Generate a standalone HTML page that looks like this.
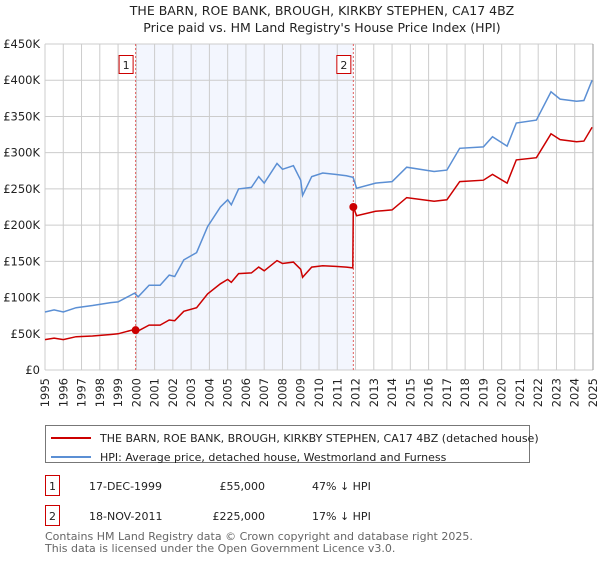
<!DOCTYPE html>
<html><head><meta charset="utf-8">
<style>
body{margin:0;background:#fff;font-family:"Liberation Sans","DejaVu Sans",sans-serif;}
svg text{font-family:"DejaVu Sans","Liberation Sans",sans-serif;}
</style></head>
<body>
<svg id="chart" width="600" height="560" viewBox="0 0 600 560">
<text x="322" y="15" text-anchor="middle" font-size="12.5" fill="#222">THE BARN, ROE BANK, BROUGH, KIRKBY STEPHEN, CA17 4BZ</text>
<text x="322" y="32" text-anchor="middle" font-size="12.5" fill="#222">Price paid vs. HM Land Registry's House Price Index (HPI)</text>
<g id="plot"></g>
<g>
<rect x="45.5" y="425.5" width="484" height="37" fill="#fff" stroke="#777"/>
<line x1="51" y1="438" x2="91" y2="438" stroke="#cc0000" stroke-width="2"/>
<text x="100" y="442" font-size="11" fill="#222">THE BARN, ROE BANK, BROUGH, KIRKBY STEPHEN, CA17 4BZ (detached house)</text>
<line x1="51" y1="457" x2="91" y2="457" stroke="#5b8fd4" stroke-width="2"/>
<text x="100" y="461" font-size="11" fill="#222">HPI: Average price, detached house, Westmorland and Furness</text>
</g>
<g>
<rect x="45.5" y="475.5" width="14" height="20" fill="#fff" stroke="#cc0000"/>
<text x="52.5" y="490" text-anchor="middle" font-size="11" fill="#222">1</text>
<text x="89" y="490" font-size="11" fill="#222">17-DEC-1999</text>
<text x="265" y="490" text-anchor="end" font-size="11" fill="#222">£55,000</text>
<text x="312" y="490" font-size="11" fill="#222">47% ↓ HPI</text>
<rect x="45.5" y="505.5" width="14" height="20" fill="#fff" stroke="#cc0000"/>
<text x="52.5" y="520" text-anchor="middle" font-size="11" fill="#222">2</text>
<text x="89" y="520" font-size="11" fill="#222">18-NOV-2011</text>
<text x="265" y="520" text-anchor="end" font-size="11" fill="#222">£225,000</text>
<text x="312" y="520" font-size="11" fill="#222">17% ↓ HPI</text>
</g>
<text x="45" y="540" font-size="11" fill="#666">Contains HM Land Registry data © Crown copyright and database right 2025.</text>
<text x="45" y="552" font-size="11" fill="#666">This data is licensed under the Open Government Licence v3.0.</text>
</svg>
<script>
const dates=[1995,1995.5,1996,1996.7,1997.6,1998.6,1999,1999.9,2000.1,2000.7,2001.3,2001.8,2002.1,2002.6,2003.3,2003.9,2004.6,2005,2005.2,2005.6,2006.3,2006.7,2007.0,2007.7,2008,2008.6,2009,2009.1,2009.6,2010.2,2010.9,2011.5,2011.85,2011.88,2012.06,2013.1,2014,2014.8,2016.3,2017,2017.7,2019,2019.5,2020.3,2020.8,2021.9,2022.7,2023.2,2024.1,2024.5,2024.95];
const hpiValues=[80,83,80,86,89,93,94,106,101,117,117,131,129,152,162,198,225,235,228,250,252,267,258,285,277,282,262,241,267,272,270,268,266,265,251,258,260,280,274,276,306,308,322,309,341,345,384,374,371,372,400];
const propertyValues=[42,44,42,46,47,49,50,56,54,62,62,69,68,81,86,105,119,125,121,133,134,142,137,151,147,149,139,128,142,144,143,142,141,225,213,219,221,238,233,235,260,262,270,258,290,293,326,318,315,316,335];
const saleDates=[1999.96,2011.88];
const salePrices=[55,225];
const saleLabels=["1","2"];
const yTicks=[0,50,100,150,200,250,300,350,400,450];
const yTickLabels=["£0","£50K","£100K","£150K","£200K","£250K","£300K","£350K","£400K","£450K"];
const xYears=[1995,1996,1997,1998,1999,2000,2001,2002,2003,2004,2005,2006,2007,2008,2009,2010,2011,2012,2013,2014,2015,2016,2017,2018,2019,2020,2021,2022,2023,2024,2025];

const X0=45,X1=593,Y0=370,Y1=44;
const xs=v=>X0+(v-1995)/30*(X1-X0);
const ys=v=>Y0-v/450*(Y0-Y1);
const NS="http://www.w3.org/2000/svg";
const g=document.getElementById('plot');
function mk(t,a){const e=document.createElementNS(NS,t);for(const k in a)e.setAttribute(k,a[k]);g.appendChild(e);return e;}
mk('rect',{x:X0,y:Y1,width:X1-X0,height:Y0-Y1,fill:'#fff'});
const sh=mk('rect',{x:xs(saleDates[0]),y:Y1,width:xs(saleDates[1])-xs(saleDates[0]),height:Y0-Y1,fill:'#f3f6fe'});


xYears.forEach(y=>{const l=mk('line',{x1:xs(y),x2:xs(y),y1:Y1,y2:Y0,stroke:'#cccccc','stroke-width':1});


const t=mk('text',{x:0,y:0,transform:`translate(${xs(y)+4},${Y0+8}) rotate(-90)`,'text-anchor':'end','font-size':11.5,fill:'#222'});
t.textContent=y;

});
yTicks.forEach((v,i)=>{const l=mk('line',{x1:X0,x2:X1,y1:ys(v),y2:ys(v),stroke:'#cccccc','stroke-width':1});


const t=mk('text',{x:40,y:ys(v)+4,'text-anchor':'end','font-size':11.5,fill:'#222'});
t.textContent=yTickLabels[i];

});
saleDates.forEach((d,i)=>{const l=mk('line',{x1:xs(d),x2:xs(d),y1:Y1,y2:Y0,stroke:'#e06060','stroke-dasharray':'2,2','stroke-width':1});


const r=mk('rect',{x:xs(d)-16.5,y:55.5,width:14,height:18,fill:'#fff',stroke:'#cc0000'});


const t=mk('text',{x:xs(d)-9.5,y:69,'text-anchor':'middle','font-size':11,fill:'#222'});
t.textContent=saleLabels[i];

});
const path=(vals)=>dates.map((d,i)=>(i?'L':'M')+xs(d).toFixed(1)+','+ys(vals[i]).toFixed(1)).join('');
const hp=mk('path',{d:path(hpiValues),fill:'none',stroke:'#5b8fd4','stroke-width':1.5});


const pp=mk('path',{d:path(propertyValues),fill:'none',stroke:'#cc0000','stroke-width':1.5});


saleDates.forEach((d,i)=>{const c=mk('circle',{cx:xs(d),cy:ys(salePrices[i]),r:4,fill:'#cc0000'});

});
const ax=mk('line',{x1:X1,x2:X1,y1:Y1,y2:Y0,stroke:'#999','stroke-width':1});


</script>
</body></html>
